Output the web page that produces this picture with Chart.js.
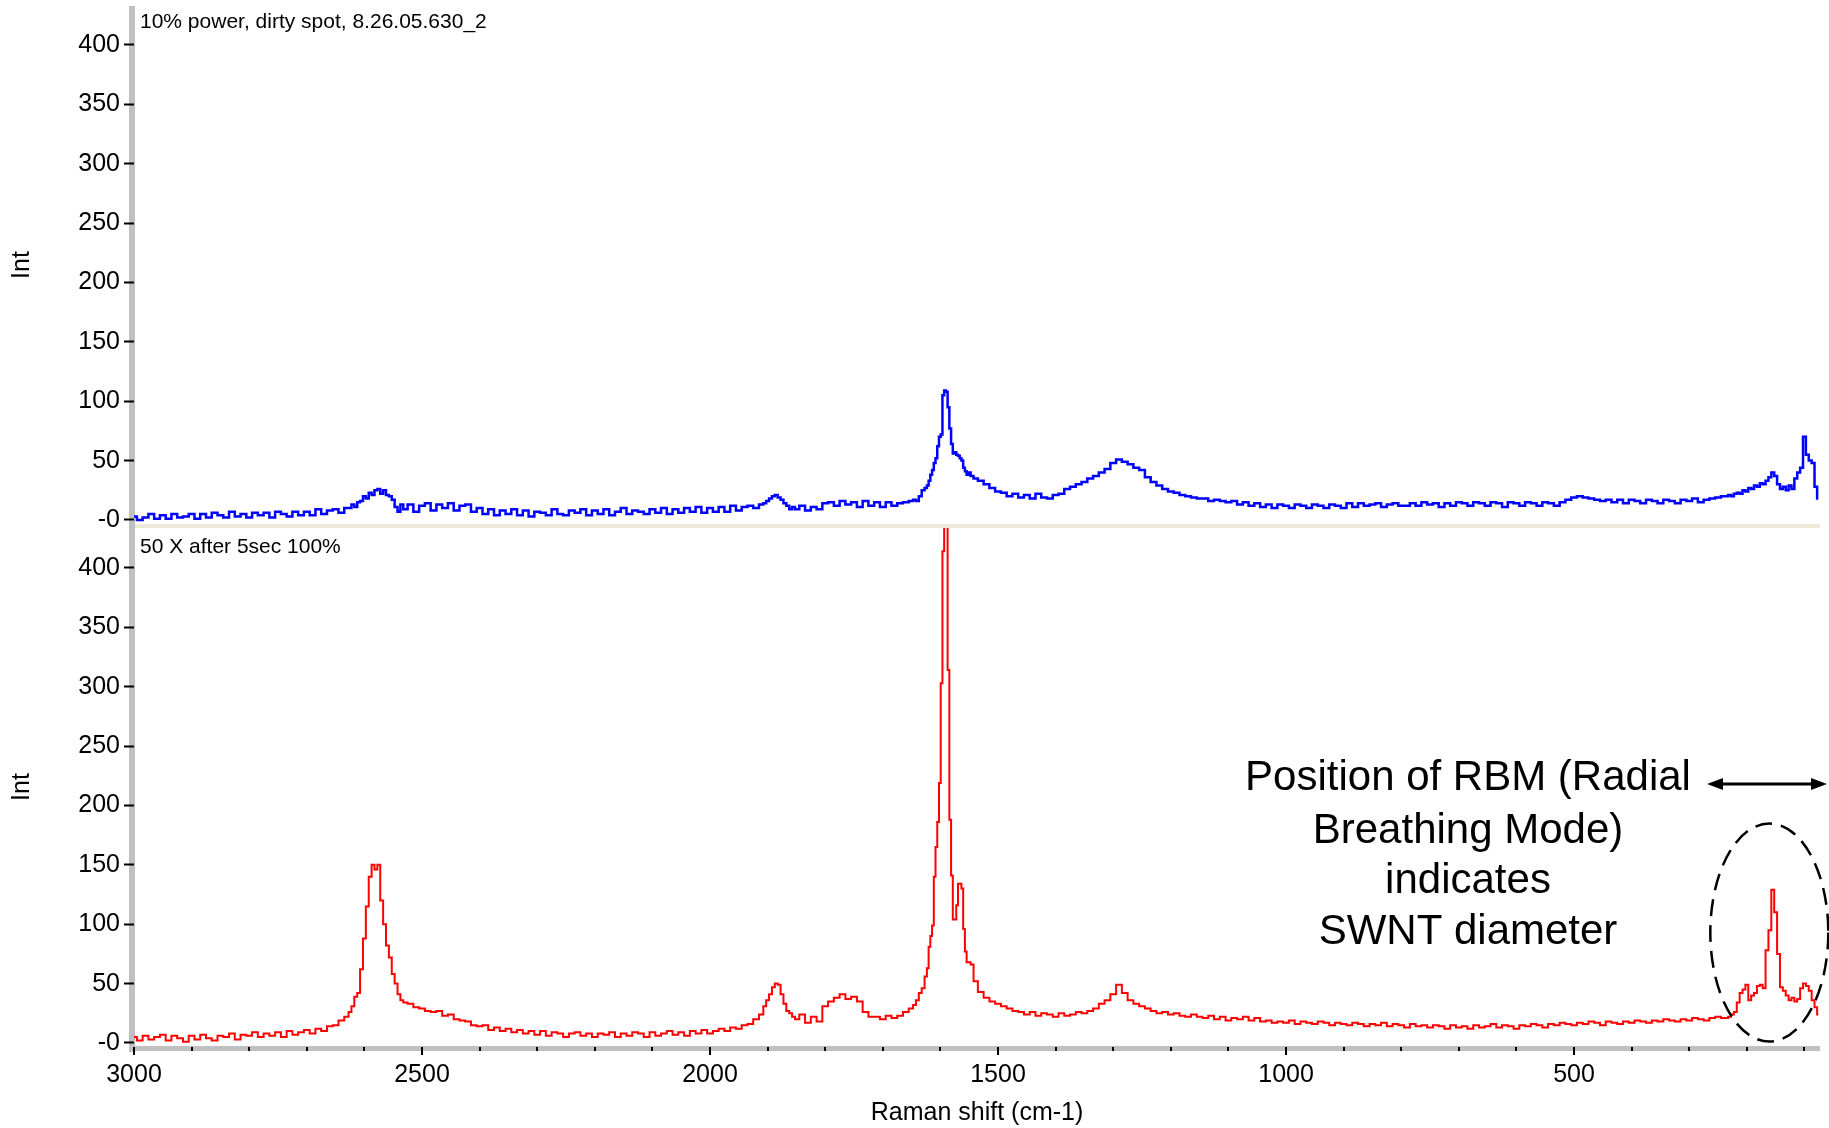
<!DOCTYPE html>
<html>
<head>
<meta charset="utf-8">
<script src="https://cdn.jsdelivr.net/npm/chart.js@4.4.1/dist/chart.umd.min.js"></script>
<style>
  html, body { margin: 0; padding: 0; background: #ffffff; }
  canvas { position: absolute; left: 0; }
</style>
</head>
<body>
<canvas id="topChart" width="1829" height="530" style="top:0px"></canvas>
<canvas id="bottomChart" width="1829" height="600" style="top:528px"></canvas>
<script>
// ---------------- DATA ----------------
const ramanShift = [
  3000,2990,2980,2970,2960,2950,2940,2930,2920,2910, 2900,2890,2880,2870,2860,2850,2840,2830,2820,2810,
  2800,2790,2780,2770,2760,2750,2740,2730,2720,2710, 2700,2690,2680,2670,2660,2650,2640,2630,
  2625,2620,2615,2610,2605,2600,2595,2590,2585,2580, 2575,2570,2565,2560,2555,2550,2545,2540,2535,2530,
  2520,2510,2500,2490,2480,2470,2460,2450,2440,2430, 2420,2410,2400,2390,2380,2370,2360,2350,2340,2330,
  2320,2310,2300,2290,2280,2270,2260,2250,2240,2230, 2220,2210,2200,2190,2180,2170,2160,2150,2140,2130,
  2120,2110,2100,2090,2080,2070,2060,2050,2040,2030, 2020,2010,2000,1990,1980,1970,1960,1950,1940,1930,
  1920,1910,
  1905,1900,1895,1890,1885,1880,1875,1870,1865,1860,1855,
  1850,1840,1830,1820,1810,1800,1790,1780,1770,1760, 1750,1740,1730,1720,1710,1700,1690,1680,1670,1660,
  1650,
  1645,1640,1635,1630,1625,1622,1619,1616,1613,1610, 1607,1604,1601,1598,1595,1592,1589,1586,1583,1580,
  1577,1574,1571,1568,1565,1562,1559,1556,1553,1550, 1545,
  1540,1530,1520,1510,1500,1490,1480,1470,1460,1450, 1440,1430,1420,1410,1400,1390,1380,1370,1360,1350,
  1340,1330,1320,1310,1300,1290,1280,1270,1260,1250, 1240,1230,1220,1210,1200,1190,1180,1170,1160,1150,
  1140,1130,1120,1110,1100,1090,1080,1070,1060,1050, 1040,1030,1020,1010,1000,990,980,970,960,950,
  940,930,920,910,900,890,880,870,860,850, 840,830,820,810,800,790,780,770,760,750,
  740,730,720,710,700,690,680,670,660,650, 640,630,620,610,600,590,580,570,560,550,
  540,530,520,510,500,490,480,470,460,450, 440,430,420,410,400,390,380,370,360,350,
  340,330,320,310,300,290,280,270,260,250, 240,
  235,230,225,220,215,210,205,200,195,190, 185,180,175,170,165,160,155,150,145,140,
  135,130,125,120,115,110,105,100,95,90, 85,80,76
];

// "10% power, dirty spot, 8.26.05.630_2"
const intensityTop = [
  3,0,2,5,1,4,1,5,2,3, 5,1,5,2,6,4,2,7,3,5,
  2,6,4,6,2,7,5,3,7,4, 7,4,9,5,8,9,6,10,
  10,13,11,15,16,20,18,23,21,25, 26,22,25,21,20,17,11,7,13,9,
  13,7,12,14,8,13,10,14,8,12, 13,7,10,5,9,4,8,5,9,4,
  8,3,7,6,4,9,5,4,8,6, 9,4,8,5,9,4,7,10,5,8,
  7,5,9,6,10,5,9,6,10,7, 11,6,10,7,11,7,12,8,11,12,
  10,13,
  14,16,18,20,21,19,17,14,12,9,11,
  9,12,8,11,9,14,15,12,16,13, 15,11,16,12,15,11,15,12,14,15,
  16,
  17,16,20,25,27,29,33,38,42,48, 52,62,70,72,105,109,108,95,77,64,
  56,57,55,54,52,50,44,41,38,40, 37,
  35,33,30,27,24,23,20,22,19,21, 18,22,19,18,21,22,26,28,30,32,
  35,37,40,43,48,51,49,47,44,42, 36,32,29,26,24,23,21,20,19,18,
  18,16,17,16,15,16,13,15,12,14, 11,13,10,13,12,10,13,12,10,13,
  12,10,13,12,10,14,11,14,12,13, 14,11,13,14,12,12,14,12,15,13,
  14,11,14,12,15,14,12,15,14,12, 15,14,11,15,14,12,15,14,12,15,
  14,12,15,17,19,20,19,18,17,16, 17,15,17,14,17,16,14,17,16,14,
  17,16,14,17,16,18,15,17,18,19, 20,
  20,21,20,22,23,22,25,24,27,26, 29,28,31,30,33,36,40,37,30,26,
  28,25,29,26,35,40,44,70,55,50, 48,28,18
];

// "50 X after 5sec 100%"
const intensityBottom = [
  5,2,6,3,5,7,2,6,4,1, 6,3,7,4,2,6,5,8,3,7,
  6,9,5,8,6,9,5,10,7,9, 11,8,12,10,14,15,19,22,
  26,31,39,42,62,88,115,140,150,146, 150,120,100,82,72,58,50,41,36,34,
  33,30,29,27,26,27,23,24,20,19, 18,15,14,15,11,13,10,12,9,11,
  8,10,7,10,6,9,8,5,8,9, 6,8,5,8,7,9,5,8,6,9,
  8,5,9,6,8,10,7,9,6,10, 8,11,8,10,12,10,13,12,15,16,
  20,24,
  31,36,41,47,50,49,41,33,27,25,22,
  20,24,17,22,18,31,35,38,41,37, 39,35,26,22,22,20,23,21,23,26,
  29,
  32,36,42,46,56,63,81,90,99,140, 165,186,219,303,414,470,470,314,188,141,
  104,104,116,134,134,130,96,77,68,68, 66,
  52,43,38,35,33,31,29,27,26,24, 26,23,25,24,22,25,23,24,26,25,
  27,29,33,36,41,49,42,36,33,31, 29,27,25,26,24,25,23,22,24,22,
  21,23,20,22,19,21,20,22,19,21, 18,19,17,18,17,19,16,18,17,16,
  18,17,15,17,16,15,17,16,14,16, 15,17,14,16,15,13,16,14,15,13,
  15,14,12,15,13,14,12,15,13,14, 16,13,15,14,12,15,14,16,15,13,
  16,15,17,16,15,17,16,18,17,15, 18,17,16,18,17,19,18,17,19,18,
  20,19,18,20,19,21,20,19,21,22, 21,
  21,22,24,26,34,42,45,49,36,40, 42,48,49,46,78,95,129,110,75,47,
  44,40,36,38,35,37,46,50,48,44, 36,30,24
];

const topLabel = '10% power, dirty spot, 8.26.05.630_2';
const bottomLabel = '50 X after 5sec 100%';
const xTitle = 'Raman shift (cm-1)';
const yTitle = 'Int';
const annotationLines = ['Position of RBM (Radial', 'Breathing Mode)', 'indicates', 'SWNT diameter'];

// ---------------- STYLE / LAYOUT ----------------
const FONT = '"Liberation Sans", Arial, Helvetica, sans-serif';
Chart.defaults.font.family = FONT;
Chart.defaults.color = '#000';
const GRAY = '#c0c0c0';
const X_MIN = 73, X_MAX = 3000;

const decor = {
  id: 'decor',
  beforeDraw(chart, args, o) {
    const ctx = chart.ctx, a = chart.chartArea;
    ctx.save();
    ctx.fillStyle = GRAY;
    ctx.fillRect(a.left - 5, o.barTop, 6, o.barBottom - o.barTop);
    if (o.xBar) ctx.fillRect(a.left - 5, a.bottom, a.right - a.left + 5, 5);
    if (o.separator) {
      ctx.fillStyle = '#ece9d8';
      ctx.fillRect(a.left + 1, a.bottom, a.right - a.left - 1, 4);
    }
    ctx.restore();
  },
  afterDraw(chart, args, o) {
    const ctx = chart.ctx, a = chart.chartArea;
    ctx.save();
    ctx.fillStyle = '#000';
    ctx.font = '21px ' + FONT;
    ctx.textBaseline = 'middle';
    ctx.textAlign = 'left';
    ctx.fillText(o.label, a.left + 6, o.labelY);
    if (o.xBar) {
      const xs = chart.scales.x;
      ctx.strokeStyle = '#000';
      ctx.lineWidth = 2;
      xs.ticks.forEach(t => {
        const p = Math.round(xs.getPixelForValue(t.value));
        const major = t.value % 500 === 0;
        ctx.beginPath();
        ctx.moveTo(p, a.bottom + 1);
        ctx.lineTo(p, a.bottom + (major ? 9 : 5));
        ctx.stroke();
      });
    }
    if (o.annotate) {
      const xs = chart.scales.x, ys = chart.scales.y;
      ctx.font = '42px ' + FONT;
      ctx.textAlign = 'center';
      ctx.textBaseline = 'middle';
      const lineY = [250, 303, 353, 404];
      annotationLines.forEach((t, i) => ctx.fillText(t, 1468, lineY[i]));
      const ay = 256, ax1 = 1707, ax2 = 1827, hl = 16, hw = 6;
      ctx.strokeStyle = '#000';
      ctx.lineWidth = 3;
      ctx.beginPath(); ctx.moveTo(ax1 + hl - 2, ay); ctx.lineTo(ax2 - hl + 2, ay); ctx.stroke();
      ctx.beginPath(); ctx.moveTo(ax1, ay); ctx.lineTo(ax1 + hl, ay - hw); ctx.lineTo(ax1 + hl, ay + hw); ctx.closePath(); ctx.fill();
      ctx.beginPath(); ctx.moveTo(ax2, ay); ctx.lineTo(ax2 - hl, ay - hw); ctx.lineTo(ax2 - hl, ay + hw); ctx.closePath(); ctx.fill();
      const cx = xs.getPixelForValue(161), cy = ys.getPixelForValue(93);
      ctx.setLineDash([17, 9]);
      ctx.lineWidth = 2.5;
      ctx.beginPath();
      ctx.ellipse(cx, cy, 59, 109, 0, 0, Math.PI * 2);
      ctx.stroke();
    }
    ctx.restore();
  }
};

function yAxis(min, max) {
  return {
    min: min, max: max,
    border: { display: false },
    grid: { display: true, drawOnChartArea: false, drawTicks: true, tickLength: 10, tickColor: '#000', tickWidth: 2 },
    ticks: { stepSize: 50, includeBounds: false, padding: 4, font: { size: 25 }, color: '#000',
             callback: v => (v === 0 ? '-0' : String(v)) },
    title: { display: true, text: yTitle, font: { size: 25 }, color: '#000', padding: { top: 7, bottom: 0 } },
    afterFit(scale) { scale.width = 134; scale.paddingTop = 0; scale.paddingBottom = 0; }
  };
}

function xAxis(show) {
  return {
    type: 'linear', min: X_MIN, max: X_MAX, reverse: true,
    display: show,
    border: { display: false },
    grid: { display: false },
    ticks: { stepSize: 100, includeBounds: false, autoSkip: false, maxRotation: 0, minRotation: 0,
             maxTicksLimit: 100, padding: 6, font: { size: 25 }, color: '#000',
             callback: v => (v % 500 === 0 ? String(v) : '') },
    title: { display: show, text: xTitle, font: { size: 25 }, color: '#000', padding: { top: 0, bottom: 0 } },
    afterFit(scale) { if (show) scale.height = 82; scale.paddingLeft = 0; scale.paddingRight = 0; }
  };
}

function makePoints(ys) { return ramanShift.map((x, i) => ({ x: x, y: ys[i] })); }

new Chart(document.getElementById('topChart'), {
  type: 'line',
  data: { datasets: [{ data: makePoints(intensityTop), borderColor: '#0000ff', borderWidth: 2.5,
                       pointRadius: 0, stepped: 'middle', fill: false }] },
  options: {
    responsive: false, animation: false, devicePixelRatio: 1,
    layout: { padding: { top: 6, bottom: 6, left: 0, right: 9 } },
    scales: { x: xAxis(false), y: yAxis(-3.37, 432.8) },
    plugins: {
      legend: { display: false }, tooltip: { enabled: false },
      decor: { barTop: 6, barBottom: 530, xBar: false, separator: true, label: topLabel, labelY: 22, annotate: false }
    }
  },
  plugins: [decor]
});

new Chart(document.getElementById('bottomChart'), {
  type: 'line',
  data: { datasets: [{ data: makePoints(intensityBottom), borderColor: '#ff0000', borderWidth: 2,
                       pointRadius: 0, stepped: 'middle', fill: false }] },
  options: {
    responsive: false, animation: false, devicePixelRatio: 1,
    layout: { padding: { top: 0, bottom: 0, left: 0, right: 9 } },
    scales: { x: xAxis(true), y: yAxis(-2.53, 433.64) },
    plugins: {
      legend: { display: false }, tooltip: { enabled: false },
      decor: { barTop: 0, barBottom: 524, xBar: true, separator: false, label: bottomLabel, labelY: 19, annotate: true }
    }
  },
  plugins: [decor]
});
</script>
</body>
</html>
